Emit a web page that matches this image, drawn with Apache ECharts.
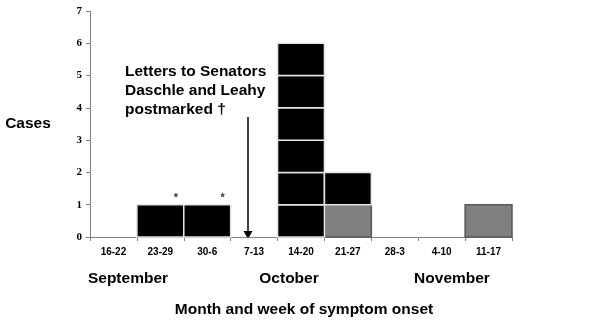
<!DOCTYPE html>
<html>
<head>
<meta charset="utf-8">
<script src="https://cdn.jsdelivr.net/npm/echarts@6/dist/echarts.min.js"></script>
<style>
  html, body { margin: 0; padding: 0; background: #fff; }
  #chart { width: 600px; height: 324px; }
</style>
</head>
<body>
<div id="chart"></div>
<script>
// Weekly case counts by symptom onset
const weeks = ['16-22', '23-29', '30-6', '7-13', '14-20', '21-27', '28-3', '4-10', '11-17'];
const grayCases = [0, 0, 0, 0, 0, 1, 0, 0, 1];   // stacked at the bottom
const blackCases = [0, 1, 1, 0, 6, 1, 0, 0, 0];
const starred = [false, true, true, false, false, false, false, false, false];
const yTicks = [0, 1, 2, 3, 4, 5, 6, 7];
const months = ['September', 'October', 'November'];

const FONT = '"Liberation Sans", Arial, sans-serif';
const SERIF = '"Liberation Serif", "Times New Roman", serif';
const chart = echarts.init(document.getElementById('chart'));

const seriesData = weeks.map((w, i) => [i, grayCases[i], blackCases[i], starred[i] ? 1 : 0]);

// Each case is drawn as its own unit box, stacked within the week column
function renderItem(params, api) {
  const i = api.value(0);
  const g = api.value(1);
  const b = api.value(2);
  const star = api.value(3);
  const w = api.size([1, 0])[0];
  const children = [];
  const total = g + b;
  for (let k = 0; k < total; k++) {
    const lo = api.coord([i, k]);
    const hi = api.coord([i, k + 1]);
    const isGray = k < g;
    children.push({
      type: 'rect',
      shape: { x: lo[0] - w / 2, y: hi[1], width: w, height: lo[1] - hi[1] },
      style: {
        fill: isGray ? '#808080' : '#000',
        stroke: isGray ? '#5a5a5a' : '#e6e6e6',
        lineWidth: 1.5
      },
      z2: isGray ? 1 : 2
    });
  }
  if (star && total > 0) {
    const top = api.coord([i, total]);
    children.push({
      type: 'text',
      style: {
        text: '*', x: top[0] + w / 2 - 8, y: top[1] - 1,
        fill: '#333', font: 'bold 11px ' + FONT,
        align: 'center', verticalAlign: 'bottom'
      },
      z2: 3
    });
  }
  return { type: 'group', children };
}

const graphicText = (text, x, y, size, align) => ({
  type: 'text', x, y,
  style: { text, fill: '#000', font: 'bold ' + size + 'px ' + FONT, align: align || 'center', verticalAlign: 'middle' }
});

chart.setOption({
  animation: false,
  backgroundColor: '#fff',
  grid: { left: 90, right: 88, top: 11, bottom: 87 },
  xAxis: {
    type: 'category',
    data: weeks,
    boundaryGap: true,
    axisLine: { lineStyle: { color: '#808080', width: 1 } },
    axisTick: { show: true, inside: false, length: 4, alignWithLabel: false, lineStyle: { color: '#808080' } },
    axisLabel: { color: '#000', fontFamily: FONT, fontWeight: 'bold', fontSize: 10, margin: 10 },
    splitLine: { show: false }
  },
  yAxis: {
    type: 'value',
    min: yTicks[0],
    max: yTicks[yTicks.length - 1],
    interval: 1,
    axisLine: { show: true, lineStyle: { color: '#808080', width: 1 } },
    axisTick: { show: true, inside: false, length: 4, lineStyle: { color: '#808080' } },
    axisLabel: { color: '#000', fontFamily: SERIF, fontWeight: 'bold', fontSize: 11, margin: 8 },
    splitLine: { show: false }
  },
  series: [{
    type: 'custom',
    renderItem,
    data: seriesData,
    encode: { x: 0, y: [1, 2] }
  }],
  graphic: [
    graphicText('Cases', 28, 124, 15.5),
    graphicText(months[0], 128, 279, 15.5),
    graphicText(months[1], 289, 279, 15.5),
    graphicText(months[2], 452, 279, 15.5),
    graphicText('Month and week of symptom onset', 304, 310, 15.5),
    graphicText('Letters to Senators', 125, 72, 15.5, 'left'),
    graphicText('Daschle and Leahy', 125, 91, 15.5, 'left'),
    graphicText('postmarked \u2020', 125, 110, 15.5, 'left'),
    {
      type: 'line',
      shape: { x1: 248, y1: 117, x2: 248, y2: 232 },
      style: { stroke: '#000', lineWidth: 1.5 }
    },
    {
      type: 'polygon',
      shape: { points: [[243.5, 231], [252.5, 231], [248, 239]] },
      style: { fill: '#000' }
    }
  ]
});
</script>
</body>
</html>
